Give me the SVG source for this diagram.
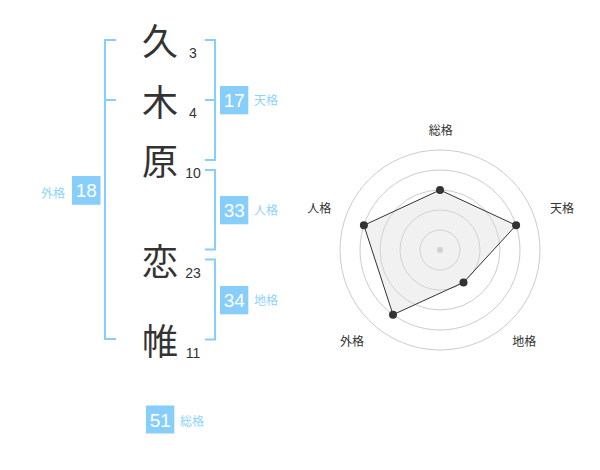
<svg xmlns="http://www.w3.org/2000/svg" width="600" height="470" viewBox="0 0 600 470">
<style>
.ch{font-family:"Noto Sans CJK JP","Noto Sans CJK SC",sans-serif;font-size:36px;fill:#333;text-anchor:middle}
.num{font-family:"Liberation Sans",Arial,sans-serif;font-size:14px;fill:#333;text-anchor:middle}
.box{fill:#87cefa}
.bt{font-family:"Liberation Sans",Arial,sans-serif;font-size:19px;fill:#fff;text-anchor:middle}
.lb{font-family:"Noto Sans CJK JP","Noto Sans CJK SC",sans-serif;font-size:12px;fill:#8fd3fb}
.br{fill:none;stroke:#87cefa;stroke-width:2}
.ring{fill:none;stroke:#ccc;stroke-width:1}
.rl{font-family:"Noto Sans CJK JP","Noto Sans CJK SC",sans-serif;font-size:12px;fill:#333;text-anchor:middle}
.pt{fill:#333}
</style>
<rect width="600" height="470" fill="#fff"/>
<g id="chars">
<text class="ch" x="160" y="54.5">久</text>
<text class="ch" x="160" y="115.5">木</text>
<text class="ch" x="160" y="174.5">原</text>
<text class="ch" x="160" y="274.5">恋</text>
<text class="ch" x="160" y="354.5">帷</text>
<text class="num" x="193" y="58">3</text>
<text class="num" x="193" y="118">4</text>
<text class="num" x="193" y="178">10</text>
<text class="num" x="193" y="277.5">23</text>
<text class="num" x="193" y="358">11</text>
</g>
<g id="connectors">
<path class="br" d="M116,40 H105 V339 H116 M105,100 H116"/>
<path class="br" d="M205,40 H215 V160 H205 M205,100 H215"/>
<path class="br" d="M205,170 H215 V249.5 H205"/>
<path class="br" d="M205,259.5 H215 V339.5 H205"/>
</g>
<g id="tenkaku">
<rect class="box" x="220" y="86" width="28.3" height="28.3"/>
<text class="bt" x="234.2" y="107">17</text>
<text class="lb" x="254" y="104.5">天格</text>
</g>
<g id="jinkaku">
<rect class="box" x="220" y="196" width="28.3" height="28.3"/>
<text class="bt" x="234.2" y="217">33</text>
<text class="lb" x="254" y="214.5">人格</text>
</g>
<g id="chikaku">
<rect class="box" x="220" y="286" width="28.3" height="28.3"/>
<text class="bt" x="234.2" y="307">34</text>
<text class="lb" x="254" y="304.5">地格</text>
</g>
<g id="gaikaku">
<rect class="box" x="72" y="176" width="28.5" height="28.8"/>
<text class="bt" x="86.2" y="197">18</text>
<text class="lb" x="41" y="197.5">外格</text>
</g>
<g id="soukaku">
<rect class="box" x="146" y="405.5" width="28.3" height="28"/>
<text class="bt" x="160.2" y="426.5">51</text>
<text class="lb" x="180" y="426">総格</text>
</g>
<g id="radar">
<circle class="ring" cx="440" cy="250" r="20"/>
<circle class="ring" cx="440" cy="250" r="40"/>
<circle class="ring" cx="440" cy="250" r="60"/>
<circle class="ring" cx="440" cy="250" r="80"/>
<circle class="ring" cx="440" cy="250" r="100"/>
<circle cx="440" cy="250" r="3" fill="#ccc"/>
<polygon points="440,190 516.1,225.3 463.5,282.4 393,314.7 363.9,225.3" fill="#dcdcdc" fill-opacity="0.4" stroke="#333" stroke-width="1"/>
<circle class="pt" cx="440" cy="190" r="4"/>
<circle class="pt" cx="516.1" cy="225.3" r="4"/>
<circle class="pt" cx="463.5" cy="282.4" r="4"/>
<circle class="pt" cx="393" cy="314.7" r="4"/>
<circle class="pt" cx="363.9" cy="225.3" r="4"/>
<text class="rl" x="440.8" y="134.8">総格</text>
<text class="rl" x="562" y="212.8">天格</text>
<text class="rl" x="319.3" y="212.8">人格</text>
<text class="rl" x="352" y="346">外格</text>
<text class="rl" x="524.3" y="346">地格</text>
</g>
</svg>
